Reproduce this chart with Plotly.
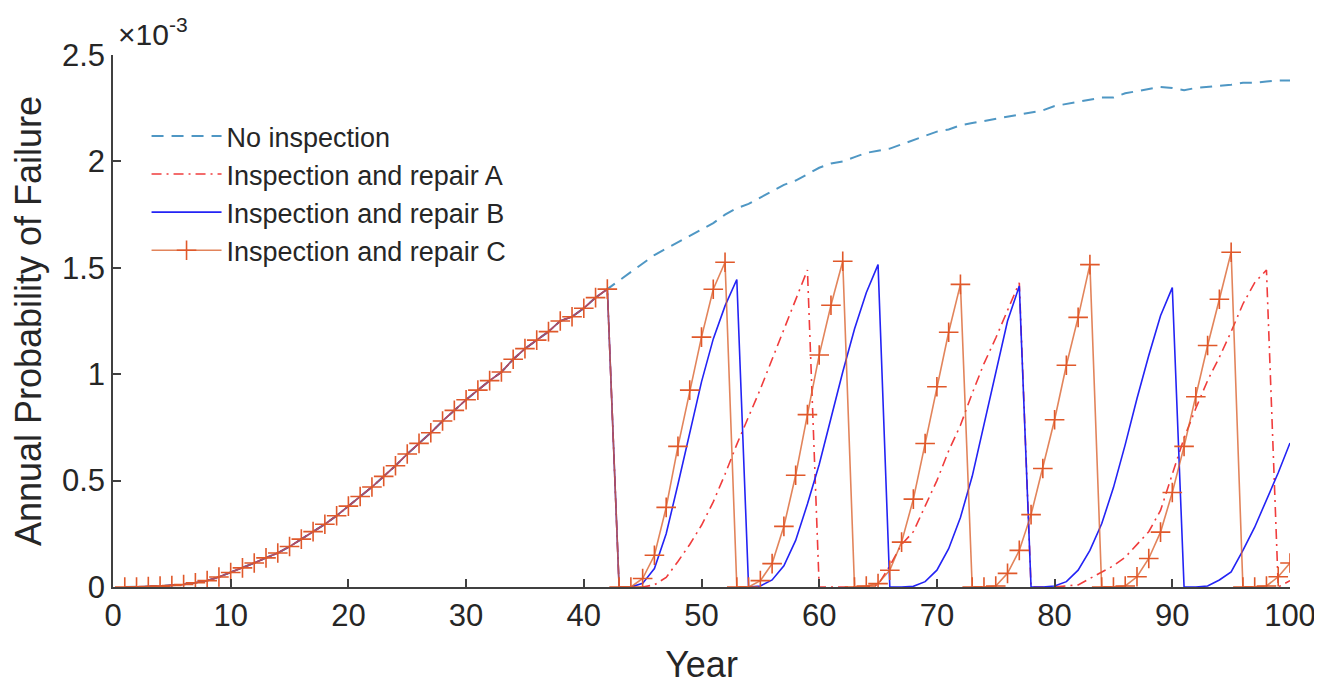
import plotly.graph_objects as go

years = list(range(1, 101))

# values in units of 1e-3
no_inspection = [
    0, 0, 0.002, 0.004, 0.007, 0.012, 0.02, 0.03, 0.047, 0.068,
    0.09, 0.113, 0.137, 0.16, 0.19, 0.225, 0.26, 0.295, 0.335, 0.38,
    0.425, 0.47, 0.52, 0.57, 0.625, 0.675, 0.725, 0.78, 0.83, 0.88,
    0.925, 0.97, 1.01, 1.07, 1.12, 1.16, 1.2, 1.25, 1.27, 1.31,
    1.36, 1.40, 1.44, 1.48, 1.52, 1.56, 1.59, 1.62, 1.65, 1.68,
    1.71, 1.75, 1.78, 1.80, 1.83, 1.86, 1.89, 1.91, 1.94, 1.97,
    1.99, 2.00, 2.02, 2.04, 2.05, 2.06, 2.08, 2.10, 2.12, 2.14,
    2.15, 2.17, 2.18, 2.19, 2.20, 2.21, 2.22, 2.23, 2.24, 2.26,
    2.27, 2.28, 2.29, 2.30, 2.30, 2.32, 2.33, 2.34, 2.35, 2.345,
    2.335, 2.345, 2.35, 2.355, 2.36, 2.37, 2.37, 2.375, 2.38, 2.38,
]

repair_a = [
    0, 0, 0.002, 0.004, 0.007, 0.012, 0.02, 0.03, 0.047, 0.068,
    0.09, 0.113, 0.137, 0.16, 0.19, 0.225, 0.26, 0.295, 0.335, 0.38,
    0.425, 0.47, 0.52, 0.57, 0.625, 0.675, 0.725, 0.78, 0.83, 0.88,
    0.925, 0.97, 1.01, 1.07, 1.12, 1.16, 1.2, 1.25, 1.27, 1.31,
    1.36, 1.40, 0, 0, 0, 0.01, 0.045, 0.12, 0.2, 0.29,
    0.4, 0.53, 0.67, 0.8, 0.93, 1.07, 1.21, 1.35, 1.49, 0,
    0, 0, 0, 0, 0.01, 0.1, 0.2, 0.26, 0.38, 0.5,
    0.64, 0.76, 0.91, 1.05, 1.17, 1.3, 1.43, 0, 0, 0,
    0.005, 0.01, 0.04, 0.07, 0.1, 0.14, 0.2, 0.26, 0.36, 0.53,
    0.7, 0.84, 0.97, 1.08, 1.2, 1.33, 1.43, 1.49, 0, 0.03,
]

repair_b = [
    0, 0, 0.002, 0.004, 0.007, 0.012, 0.02, 0.03, 0.047, 0.068,
    0.09, 0.113, 0.137, 0.16, 0.19, 0.225, 0.26, 0.295, 0.335, 0.38,
    0.425, 0.47, 0.52, 0.57, 0.625, 0.675, 0.725, 0.78, 0.83, 0.88,
    0.925, 0.97, 1.01, 1.07, 1.12, 1.16, 1.2, 1.25, 1.27, 1.31,
    1.36, 1.40, 0, 0, 0.017, 0.087, 0.25, 0.483, 0.731, 0.964,
    1.166, 1.321, 1.445, 0, 0.005, 0.033, 0.10, 0.219, 0.39, 0.576,
    0.793, 1.01, 1.212, 1.383, 1.515, 0, 0, 0.003, 0.025, 0.079,
    0.18, 0.327, 0.52, 0.762, 1.018, 1.25, 1.414, 0, 0, 0.005,
    0.025, 0.079, 0.172, 0.297, 0.467, 0.669, 0.886, 1.088, 1.275, 1.407,
    0, 0, 0.005, 0.033, 0.071, 0.172, 0.281, 0.405, 0.537, 0.677,
]

repair_c = [
    0, 0, 0.002, 0.004, 0.007, 0.012, 0.02, 0.03, 0.047, 0.068,
    0.09, 0.113, 0.137, 0.16, 0.19, 0.225, 0.26, 0.295, 0.335, 0.38,
    0.425, 0.47, 0.52, 0.57, 0.625, 0.675, 0.725, 0.78, 0.83, 0.88,
    0.925, 0.97, 1.01, 1.07, 1.12, 1.16, 1.2, 1.25, 1.27, 1.31,
    1.36, 1.40, 0, 0, 0.04, 0.149, 0.374, 0.661, 0.925, 1.174,
    1.399, 1.526, 0, 0, 0.03, 0.11, 0.285, 0.525, 0.81, 1.09,
    1.324, 1.531, 0, 0.005, 0.016, 0.079, 0.211, 0.413, 0.674, 0.941,
    1.197, 1.422, 0, 0, 0.005, 0.064, 0.172, 0.34, 0.557, 0.786,
    1.042, 1.267, 1.515, 0, 0, 0.005, 0.048, 0.134, 0.258, 0.444,
    0.661, 0.894, 1.135, 1.352, 1.573, 0, 0, 0.005, 0.048, 0.113,
]

scale = 1e-3
y_tick_vals = [0, 0.5, 1, 1.5, 2, 2.5]
y_tick_text = ["0", "0.5", "1", "1.5", "2", "2.5"]
x_tick_vals = [0, 10, 20, 30, 40, 50, 60, 70, 80, 90, 100]

def sc(v):
    return [a * scale for a in v]

FONT = "Arial, Liberation Sans, sans-serif"
TXT = "#262626"

fig = go.Figure()
fig.add_trace(go.Scatter(x=years, y=sc(no_inspection), mode="lines", name="No inspection",
                         line=dict(color="#4f97c4", width=2, dash="12px,8px")))
fig.add_trace(go.Scatter(x=years, y=sc(repair_a), mode="lines", name="Inspection and repair A",
                         line=dict(color="#f03c3c", width=1.6, dash="10px,5px,2px,5px")))
fig.add_trace(go.Scatter(x=years, y=sc(repair_b), mode="lines", name="Inspection and repair B",
                         line=dict(color="#2323f5", width=1.6)))
fig.add_trace(go.Scatter(x=years, y=sc(repair_c), mode="lines+markers", name="Inspection and repair C",
                         line=dict(color="rgba(218,98,45,0.78)", width=1.6),
                         marker=dict(symbol="cross-thin", size=14,
                                     line=dict(color="#e0582a", width=1.6))))

fig.update_layout(
    width=1322, height=683,
    margin=dict(l=105, r=40, t=47, b=104),
    paper_bgcolor="white", plot_bgcolor="white",
    font=dict(family=FONT, color=TXT, size=31),
    showlegend=True,
    legend=dict(x=0.0285, y=0.893, xanchor="left", yanchor="top",
                bgcolor="rgba(0,0,0,0)", borderwidth=0,
                font=dict(size=27, color=TXT), itemwidth=70,
                tracegroupgap=0),
    xaxis=dict(range=[0, 100], tickvals=x_tick_vals, ticks="inside", ticklen=8,
               tickwidth=1.5, tickcolor="#404040", showline=True, linecolor="#404040",
               linewidth=1.5, showgrid=False, zeroline=False, mirror=False,
               automargin=False,
               tickfont=dict(size=31, color=TXT),
               title=dict(text="Year", font=dict(size=36, color=TXT), standoff=20)),
    yaxis=dict(range=[0, 2.5 * scale], tickvals=[v * scale for v in y_tick_vals],
               ticktext=y_tick_text, ticks="inside", ticklen=8, tickwidth=1.5,
               tickcolor="#404040", showline=True, linecolor="#404040", linewidth=1.5,
               showgrid=False, zeroline=False, mirror=False, automargin=False,
               tickfont=dict(size=31, color=TXT),
               title=dict(text="Annual Probability of Failure", font=dict(size=36, color=TXT),
                          standoff=12)),
    annotations=[dict(text="×10<sup>-3</sup>", xref="paper", yref="paper", x=0, y=1,
                      xanchor="left", yanchor="bottom", showarrow=False, xshift=3, yshift=2,
                      font=dict(size=30, color=TXT))],
)

fig.write_html("out.html")
